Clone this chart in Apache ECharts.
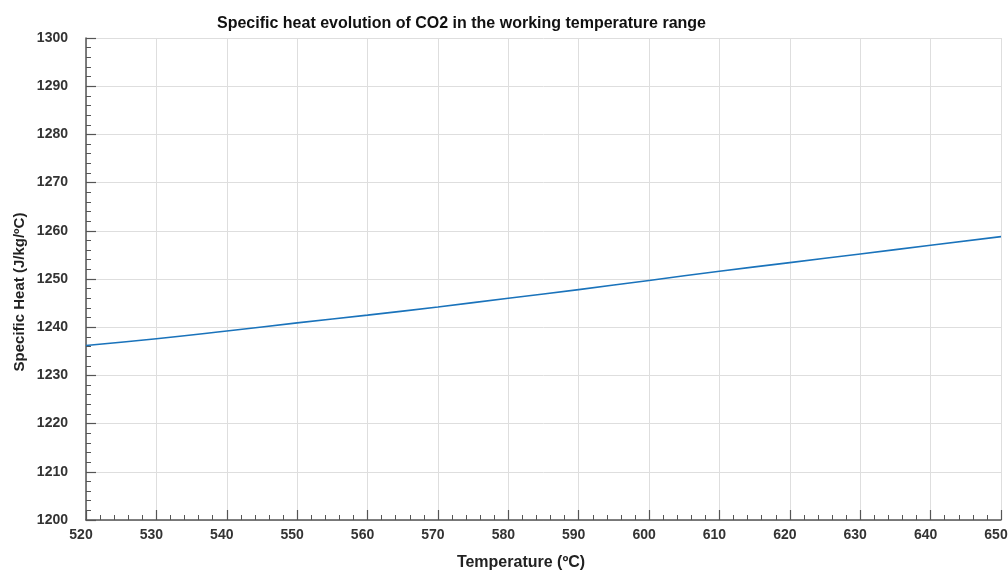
<!DOCTYPE html>
<html>
<head>
<meta charset="utf-8">
<script src="https://cdn.jsdelivr.net/npm/echarts@6/dist/echarts.min.js"></script>
<style>html,body{margin:0;padding:0;background:#fff}#c{width:1008px;height:572px}</style>
</head>
<body>
<div id="c"></div>
<script>
const temperatures = [520, 530, 540, 550, 560, 570, 580, 590, 600, 610, 620, 630, 640, 650];
const specificHeat = [1236.2, 1237.6, 1239.2, 1240.9, 1242.5, 1244.2, 1246.0, 1247.8, 1249.7, 1251.6, 1253.4, 1255.2, 1257.0, 1258.8];
const titleText = 'Specific heat evolution of CO2 in the working temperature range';
const xName = 'Temperature (ºC)';
const yName = 'Specific Heat (J/kg/ºC)';

const chart = echarts.init(document.getElementById('c'));
const font = '"Liberation Sans", Arial, sans-serif';
const axisCol = '#555';
chart.setOption({
  animation: false,
  backgroundColor: '#fff',
  title: {
    text: titleText, left: 212, top: 11,
    textStyle: {fontFamily: font, fontSize: 16, fontWeight: 'bold', color: '#111'}
  },
  grid: {left: 86, right: 7, top: 38, bottom: 52, outerBoundsMode: 'none', containLabel: false},
  xAxis: {
    type: 'value', min: 520, max: 650, interval: 10,
    axisLine: {show: true, lineStyle: {color: axisCol, width: 1.5}},
    axisTick: {show: true, inside: true, length: 10, lineStyle: {color: axisCol, width: 1.2}},
    minorTick: {show: true, splitNumber: 5, length: 5, lineStyle: {color: axisCol, width: 1}},
    splitLine: {show: true, lineStyle: {color: '#dedede', width: 1}},
    axisLabel: {fontFamily: font, fontSize: 14, fontWeight: 'bold', color: '#333', margin: 8,
      padding: [0, 10, 0, 0], hideOverlap: false}
  },
  yAxis: {
    type: 'value', min: 1200, max: 1300, interval: 10,
    axisLine: {show: true, lineStyle: {color: axisCol, width: 1.5}},
    axisTick: {show: true, inside: true, length: 10, lineStyle: {color: axisCol, width: 1.2}},
    minorTick: {show: true, splitNumber: 5, length: 5, lineStyle: {color: axisCol, width: 1}},
    splitLine: {show: true, lineStyle: {color: '#dedede', width: 1}},
    axisLabel: {fontFamily: font, fontSize: 14, fontWeight: 'bold', color: '#333', margin: 18,
      formatter: v => String(v)}
  },
  graphic: [
    {type: 'text', x: 521, y: 563, style: {text: xName, font: 'bold 16px ' + font, fill: '#222', align: 'center', verticalAlign: 'middle'}},
    {type: 'text', x: 20, y: 292, rotation: Math.PI / 2, style: {text: yName, font: 'bold 15px ' + font, fill: '#222', align: 'center', verticalAlign: 'middle'}}
  ],
  series: [{
    type: 'line',
    data: temperatures.map((t, i) => [t, specificHeat[i]]),
    showSymbol: false, smooth: true,
    lineStyle: {color: '#1a73bb', width: 1.6}
  }]
});
</script>
</body>
</html>
